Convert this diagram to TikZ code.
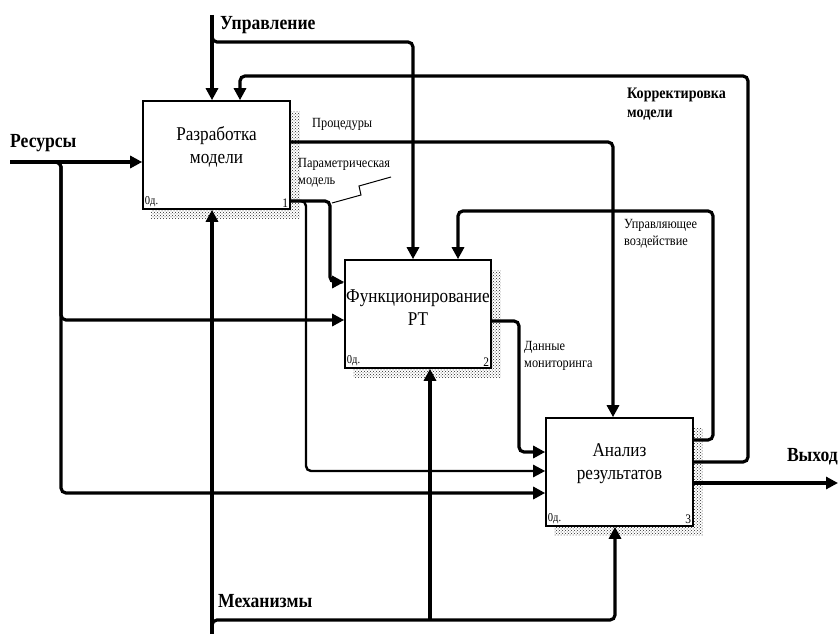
\documentclass[tikz,border=0pt]{standalone}
\usepackage{fontspec}
\setmainfont{Liberation Serif}[FakeStretch=0.88]
\usetikzlibrary{arrows.meta,patterns}

\tikzset{
  blok/.style={draw, line width=1.6pt, fill=white, minimum width=147pt, minimum height=108pt, inner sep=0pt},
  ten/.style={pattern=crosshatch dots, pattern color=black!85},
  flow/.style={line width=3.2pt, rounded corners=5pt, -{Triangle[length=12pt,width=12pt]}},
  lbl/.style={font=\fontsize{14}{17}\selectfont, align=left, inner sep=0pt},
  glav/.style={font=\fontsize{20}{22}\selectfont\bfseries, align=left, inner sep=0pt}
}

\begin{document}
\begin{tikzpicture}[x=1pt, y=-1pt]
\useasboundingbox (0,0) rectangle (838,634);

\begin{scope}[every label/.style={inner sep=2.5pt}]
\node[blok, label={[yshift=8pt, align=center, font=\fontsize{19.5}{23}\selectfont]center:Разработка\\модели},
  label={[anchor=south west, font=\fontsize{12}{12}\selectfont]south west:0д.},
  label={[anchor=south east, font=\fontsize{13}{13}\selectfont]south east:1}] (b1) at (216.5,155) {};
\node[blok, minimum width=146pt, label={[yshift=6pt, align=center, font=\fontsize{19.5}{23}\selectfont]center:Функционирование\\РТ},
  label={[anchor=south west, font=\fontsize{12}{12}\selectfont]south west:0д.},
  label={[anchor=south east, font=\fontsize{13}{13}\selectfont]south east:2}] (b2) at (418,314) {};
\node[blok, label={[yshift=8pt, align=center, font=\fontsize{19.5}{23}\selectfont]center:Анализ\\результатов},
  label={[anchor=south west, font=\fontsize{12}{12}\selectfont]south west:0д.},
  label={[anchor=south east, font=\fontsize{13}{13}\selectfont]south east:3}] (b3) at (619.5,472) {};
\end{scope}

\foreach \b in {b1,b2,b3}
  \fill[ten] ([shift={(0,11)}]\b.north east) -- ([shift={(9,11)}]\b.north east)
    -- ([shift={(9,9)}]\b.south east) -- ([shift={(9,9)}]\b.south west)
    -- ([shift={(9,0)}]\b.south west) -- (\b.south east) -- cycle;

\coordinate (upr) at (212,15);
\coordinate (res) at (10,162);
\coordinate (meh) at (212,634);
\coordinate (vyh) at (838,483);

\node[glav, anchor=west] (tupr) at (220,25) {Управление};
\node[glav, anchor=west] (tres) at (10,143) {Ресурсы};
\node[glav, anchor=west] (tmeh) at (218,601) {Механизмы};
\node[glav, anchor=east] (tvyh) at (838,457) {Выход};
\node[glav, anchor=north west, font=\fontsize{16}{19}\selectfont\bfseries] (tkor) at (627,88) {Корректировка\\модели};
\node[lbl, anchor=west] (tpro) at (312,124) {Процедуры};
\node[lbl, anchor=north west, font=\fontsize{14}{17}\selectfont] (tpar) at (298,158) {Параметрическая\\модель};
\node[lbl, anchor=north west, font=\fontsize{14}{17}\selectfont] (tupv) at (624,219) {Управляющее\\воздействие};
\node[lbl, anchor=north west, font=\fontsize{14}{17}\selectfont] (tdan) at (524,341) {Данные\\мониторинга};

\draw[flow] (upr) -- (upr |- b1.north);
\draw[flow] (212,30) -- (212,42) -- (413,42) -- (413,0 |- b2.north);
\draw[flow] (b3.east |- 0,462) -- (748,462) -- (748,76) -- (240,76) -- (240,0 |- b1.north);
\draw[flow] (b3.east |- 0,440) -- (713,440) -- (713,211) -- (458,211) -- (458,0 |- b2.north);
\draw[flow] (b1.east |- 0,142) -- (613,142) -- (613,0 |- b3.north);
\draw[flow] (b1.east |- 0,201) -- (330,201) -- (330,282) -- (b2.west |- 0,282);
\draw[flow, line width=2.4pt] (b1.east |- 0,201) -- (306,201) -- (306,471) -- (b3.west |- 0,471);
\draw[flow] (b2.east |- 0,321) -- (519,321) -- (519,452) -- (b3.west |- 0,452);
\draw[flow] (res) -- (b1.west |- res);
\draw[flow] (50,162) -- (61,162) -- (61,320) -- (b2.west |- 0,320);
\draw[flow] (50,162) -- (61,162) -- (61,493) -- (b3.west |- 0,493);
\draw[flow] (meh) -- (meh |- b1.south);
\draw[flow] (212,632) -- (212,620) -- (615,620) -- (615,0 |- b3.south);
\draw[flow] (430,620) -- (430,0 |- b2.south);
\draw[flow] (b3.east |- vyh) -- (vyh);

\draw[line width=1pt] (332,203) -- (361,195) -- (359,186) -- (391,177);

\end{tikzpicture}
\end{document}
